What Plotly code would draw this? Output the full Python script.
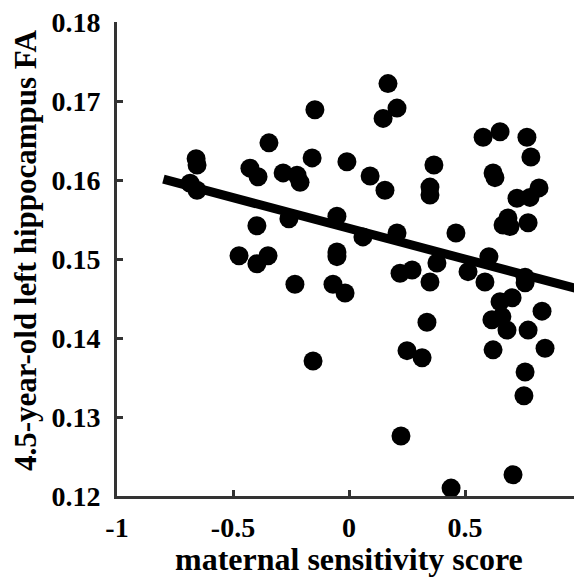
import plotly.graph_objects as go

# maternal sensitivity score (x) and 4.5-year-old left hippocampus FA (y)
sens_score = [
    -0.659, -0.655, -0.685, -0.655, -0.345, -0.427, -0.392, -0.284, -0.224, -0.211,
    -0.159, -0.147, -0.009, -0.397, -0.259, -0.052, -0.474, -0.397, -0.349, -0.052,
    -0.052, -0.233, -0.069, -0.017, -0.155, 0.168, 0.207, 0.147, 0.091, 0.155,
    0.366, 0.349, 0.349, 0.060, 0.207, 0.461, 0.220, 0.272, 0.379, 0.349,
    0.513, 0.336, 0.250, 0.315, 0.224, 0.440, 0.578, 0.651, 0.767, 0.784,
    0.621, 0.629, 0.724, 0.780, 0.819, 0.685, 0.694, 0.664, 0.772, 0.603,
    0.586, 0.759, 0.759, 0.703, 0.651, 0.616, 0.659, 0.681, 0.772, 0.832,
    0.621, 0.845, 0.759, 0.754, 0.707,
]
hippo_fa = [
    0.1627, 0.1619, 0.1596, 0.1587, 0.1647, 0.1615, 0.1604, 0.1609, 0.1606, 0.1597,
    0.1628, 0.1689, 0.1623, 0.1542, 0.1551, 0.1554, 0.1504, 0.1494, 0.1504, 0.1509,
    0.1503, 0.1468, 0.1468, 0.1457, 0.1371, 0.1722, 0.1691, 0.1678, 0.1605, 0.1587,
    0.1619, 0.1591, 0.1581, 0.1528, 0.1533, 0.1533, 0.1482, 0.1486, 0.1495, 0.1471,
    0.1484, 0.1420, 0.1384, 0.1375, 0.1276, 0.1210, 0.1654, 0.1661, 0.1654, 0.1629,
    0.1609, 0.1603, 0.1577, 0.1578, 0.1590, 0.1552, 0.1541, 0.1543, 0.1546, 0.1503,
    0.1471, 0.1477, 0.1470, 0.1451, 0.1446, 0.1423, 0.1427, 0.1410, 0.1410, 0.1434,
    0.1385, 0.1387, 0.1357, 0.1327, 0.1227,
]

# regression line end points
fit_x = [-0.8, 1.0]
fit_y = [0.1601, 0.1461]

x_ticks = [-1, -0.5, 0, 0.5, 1]
x_tick_labels = ["-1", "-0.5", "0", "0.5", "1"]
y_ticks = [0.12, 0.13, 0.14, 0.15, 0.16, 0.17, 0.18]
y_tick_labels = ["0.12", "0.13", "0.14", "0.15", "0.16", "0.17", "0.18"]

x_title = "maternal sensitivity score"
y_title = "4.5-year-old left hippocampus FA"

FONT = "Liberation Serif"

fig = go.Figure()
fig.add_trace(go.Scatter(
    x=fit_x, y=fit_y, mode="lines",
    line=dict(color="black", width=9),
    showlegend=False, hoverinfo="skip",
))
fig.add_trace(go.Scatter(
    x=sens_score, y=hippo_fa, mode="markers",
    marker=dict(color="black", size=19, line=dict(width=0)),
    showlegend=False,
))

axis_common = dict(
    showgrid=False, zeroline=False, automargin=False,
    showline=True, linecolor="#333333", linewidth=3,
    ticks="inside", ticklen=6, tickwidth=3, tickcolor="#333333",
    tickfont=dict(family=FONT, size=28, color="black", weight="bold"),
    ticklabeloverflow="allow",
    mirror=False,
)

# the page adds an 8px body margin, so the figure is offset by (8, 8)
fig.update_layout(
    width=582, height=577,
    margin=dict(l=109, r=9, t=14, b=89),
    paper_bgcolor="white", plot_bgcolor="white",
    xaxis=dict(range=[-1, 1], tickvals=x_ticks, ticktext=x_tick_labels,
               ticklabelstandoff=4, **axis_common),
    yaxis=dict(range=[0.12, 0.18], tickvals=y_ticks, ticktext=y_tick_labels,
               ticklabelstandoff=8, **axis_common),
    annotations=[
        dict(text=x_title, xref="paper", yref="paper", x=0.5, y=-0.133,
             xanchor="center", yanchor="middle", showarrow=False,
             font=dict(family=FONT, size=32, color="black", weight="bold")),
        dict(text=y_title, xref="paper", yref="paper", x=-0.196, y=0.517,
             xanchor="center", yanchor="middle", textangle=-90, showarrow=False,
             font=dict(family=FONT, size=31, color="black", weight="bold")),
    ],
)

fig.write_html("out.html")
